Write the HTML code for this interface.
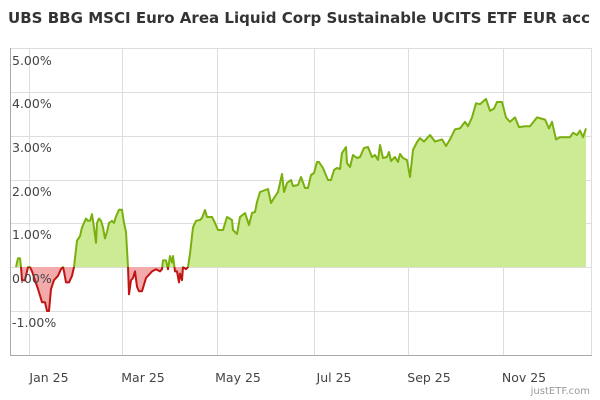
<!DOCTYPE html>
<html><head><meta charset="utf-8"><style>
html,body{margin:0;padding:0;background:#fff;}
svg{display:block;font-family:"DejaVu Sans","Liberation Sans",sans-serif;}
</style></head><body>
<svg width="600" height="400" viewBox="0 0 600 400">
<text x="299" y="23" text-anchor="middle" font-size="15" font-weight="bold" fill="#333" textLength="582" lengthAdjust="spacingAndGlyphs">UBS BBG MSCI Euro Area Liquid Corp Sustainable UCITS ETF EUR acc</text>
<g stroke="#dddddd" stroke-width="1">
<line x1="10" y1="48.5" x2="591" y2="48.5"/>
<line x1="10" y1="92.5" x2="591" y2="92.5"/>
<line x1="10" y1="136.5" x2="591" y2="136.5"/>
<line x1="10" y1="180.5" x2="591" y2="180.5"/>
<line x1="10" y1="223.5" x2="591" y2="223.5"/>
<line x1="10" y1="267.5" x2="591" y2="267.5"/>
<line x1="10" y1="311.5" x2="591" y2="311.5"/>
<line x1="29.5" y1="48" x2="29.5" y2="355"/>
<line x1="122.5" y1="48" x2="122.5" y2="355"/>
<line x1="217.5" y1="48" x2="217.5" y2="355"/>
<line x1="314.5" y1="48" x2="314.5" y2="355"/>
<line x1="408.5" y1="48" x2="408.5" y2="355"/>
<line x1="503.5" y1="48" x2="503.5" y2="355"/>
<line x1="591.5" y1="48" x2="591.5" y2="355"/>
</g>
<line x1="10.5" y1="48" x2="10.5" y2="355" stroke="#aaa"/>
<line x1="10" y1="355.5" x2="592" y2="355.5" stroke="#aaa"/>
<defs>
<clipPath id="up"><rect x="0" y="0" width="600" height="267"/></clipPath>
<clipPath id="dn"><rect x="0" y="267" width="600" height="133"/></clipPath>
</defs>
<g clip-path="url(#up)">
<polygon fill="#cdea94" points="16,267 18,258.2 20,258.2 21,267 22,280.2 25,280.2 27,271.4 28,267 30,267 32,271.4 35,280.2 38,289 42,302.2 45,302.2 47,311 49,311 51,289 54,280.2 58,275.8 61,269.2 63,267 64,271.4 66,282.4 69,282.4 72,275.8 74,267 77,240.6 80,236.2 82,227.4 84,223 86,218.6 88,220.8 90,220.8 92,214.2 94,227.4 96,242.8 97,223 99,218.6 101,220.8 103,227.4 105,238.4 107,231.8 109,223 112,220.8 114,223 116,216.4 119,209.8 122,209.8 124,223 126,231.8 128,267 129,294.3 131,280.2 133,278 135,271.4 137,286.8 139,291.2 142,291.2 144,284.6 146,278 148,275.8 152,271.4 156,269.2 160,271.4 162,269.2 163,260.4 166,260.4 168,269.2 170,256 172,262.6 173,256 175,271.4 177,271.4 179,282.4 180,273.6 182,280.2 183,267 186,269.2 188,267 190,253.8 193,227.4 196,220.8 200,220 202,218 205,210 207,217 212,217 215,223 218,230 223,230 227,217 232,220 233,230 237,234 240,217 245,213 249,225 252,213 255,212 257,202 260,192 268,189 271,203 274,198 278,192 282,174 284,192 287,183 291,180 293,186 298,185 301,177 305,188 308,188 311,175 314,173 317,162 319,162 323,168 325,173 328,180 331,180 334,170 337,168 340,169 342,153 346,147 347,163 350,167 353,155 357,158 360,157 364,148 368,147 372,157 375,155 378,160 380,145 383,158 387,157 389,152 391,161 395,157 398,162 400,154 403,158 407,160 410,177 413,150 417,142 420,138.1 424,141.6 430,135 435,141.6 442,139.4 446,146 450,139.4 455,129.3 460,128.4 465,121.8 468,126.2 472,117.4 476,103.3 480,104.2 486,98.9 490,110.8 494,108.6 497,102 502,102 506,117.4 510,121.8 515,117.4 519,127.1 525,126.2 530,126.2 537,117.4 545,119.6 549,128.4 552,121.8 556,139.4 560,137.2 570,137.2 573,132.8 577,135 580,130.6 583,137.2 586,128.4 586,267"/>
<polyline fill="none" stroke="#79b00f" stroke-width="2" stroke-linejoin="round" points="16,267 18,258.2 20,258.2 21,267 22,280.2 25,280.2 27,271.4 28,267 30,267 32,271.4 35,280.2 38,289 42,302.2 45,302.2 47,311 49,311 51,289 54,280.2 58,275.8 61,269.2 63,267 64,271.4 66,282.4 69,282.4 72,275.8 74,267 77,240.6 80,236.2 82,227.4 84,223 86,218.6 88,220.8 90,220.8 92,214.2 94,227.4 96,242.8 97,223 99,218.6 101,220.8 103,227.4 105,238.4 107,231.8 109,223 112,220.8 114,223 116,216.4 119,209.8 122,209.8 124,223 126,231.8 128,267 129,294.3 131,280.2 133,278 135,271.4 137,286.8 139,291.2 142,291.2 144,284.6 146,278 148,275.8 152,271.4 156,269.2 160,271.4 162,269.2 163,260.4 166,260.4 168,269.2 170,256 172,262.6 173,256 175,271.4 177,271.4 179,282.4 180,273.6 182,280.2 183,267 186,269.2 188,267 190,253.8 193,227.4 196,220.8 200,220 202,218 205,210 207,217 212,217 215,223 218,230 223,230 227,217 232,220 233,230 237,234 240,217 245,213 249,225 252,213 255,212 257,202 260,192 268,189 271,203 274,198 278,192 282,174 284,192 287,183 291,180 293,186 298,185 301,177 305,188 308,188 311,175 314,173 317,162 319,162 323,168 325,173 328,180 331,180 334,170 337,168 340,169 342,153 346,147 347,163 350,167 353,155 357,158 360,157 364,148 368,147 372,157 375,155 378,160 380,145 383,158 387,157 389,152 391,161 395,157 398,162 400,154 403,158 407,160 410,177 413,150 417,142 420,138.1 424,141.6 430,135 435,141.6 442,139.4 446,146 450,139.4 455,129.3 460,128.4 465,121.8 468,126.2 472,117.4 476,103.3 480,104.2 486,98.9 490,110.8 494,108.6 497,102 502,102 506,117.4 510,121.8 515,117.4 519,127.1 525,126.2 530,126.2 537,117.4 545,119.6 549,128.4 552,121.8 556,139.4 560,137.2 570,137.2 573,132.8 577,135 580,130.6 583,137.2 586,128.4"/>
</g>
<g clip-path="url(#dn)">
<polygon fill="#f2aaaa" points="16,267 18,258.2 20,258.2 21,267 22,280.2 25,280.2 27,271.4 28,267 30,267 32,271.4 35,280.2 38,289 42,302.2 45,302.2 47,311 49,311 51,289 54,280.2 58,275.8 61,269.2 63,267 64,271.4 66,282.4 69,282.4 72,275.8 74,267 77,240.6 128,267 129,294.3 131,280.2 133,278 135,271.4 137,286.8 139,291.2 142,291.2 144,284.6 146,278 148,275.8 152,271.4 156,269.2 160,271.4 162,269.2 163,260.4 166,260.4 168,269.2 170,256 172,262.6 173,256 175,271.4 177,271.4 179,282.4 180,273.6 182,280.2 183,267 186,269.2 188,267 190,253.8"/>
<polyline fill="none" stroke="#c01515" stroke-width="2" stroke-linejoin="round" points="16,267 18,258.2 20,258.2 21,267 22,280.2 25,280.2 27,271.4 28,267 30,267 32,271.4 35,280.2 38,289 42,302.2 45,302.2 47,311 49,311 51,289 54,280.2 58,275.8 61,269.2 63,267 64,271.4 66,282.4 69,282.4 72,275.8 74,267 77,240.6 80,236.2 124,223 126,231.8 128,267 129,294.3 131,280.2 133,278 135,271.4 137,286.8 139,291.2 142,291.2 144,284.6 146,278 148,275.8 152,271.4 156,269.2 160,271.4 162,269.2 163,260.4 166,260.4 168,269.2 170,256 172,262.6 173,256 175,271.4 177,271.4 179,282.4 180,273.6 182,280.2 183,267 186,269.2 188,267 190,253.8"/>
</g>
<g font-size="12.5" fill="#444">
<text x="12" y="65">5.00%</text>
<text x="12" y="108">4.00%</text>
<text x="12" y="152">3.00%</text>
<text x="12" y="196">2.00%</text>
<text x="12" y="239">1.00%</text>
<text x="12" y="283">0.00%</text>
<text x="12" y="327">-1.00%</text>
</g>
<g font-size="12.5" fill="#444" text-anchor="middle">
<text x="49" y="382">Jan 25</text>
<text x="143" y="382">Mar 25</text>
<text x="238" y="382">May 25</text>
<text x="334" y="382">Jul 25</text>
<text x="429" y="382">Sep 25</text>
<text x="524" y="382">Nov 25</text>
</g>
<text x="590" y="394" text-anchor="end" font-size="10" fill="#999">justETF.com</text>
</svg>
</body></html>
